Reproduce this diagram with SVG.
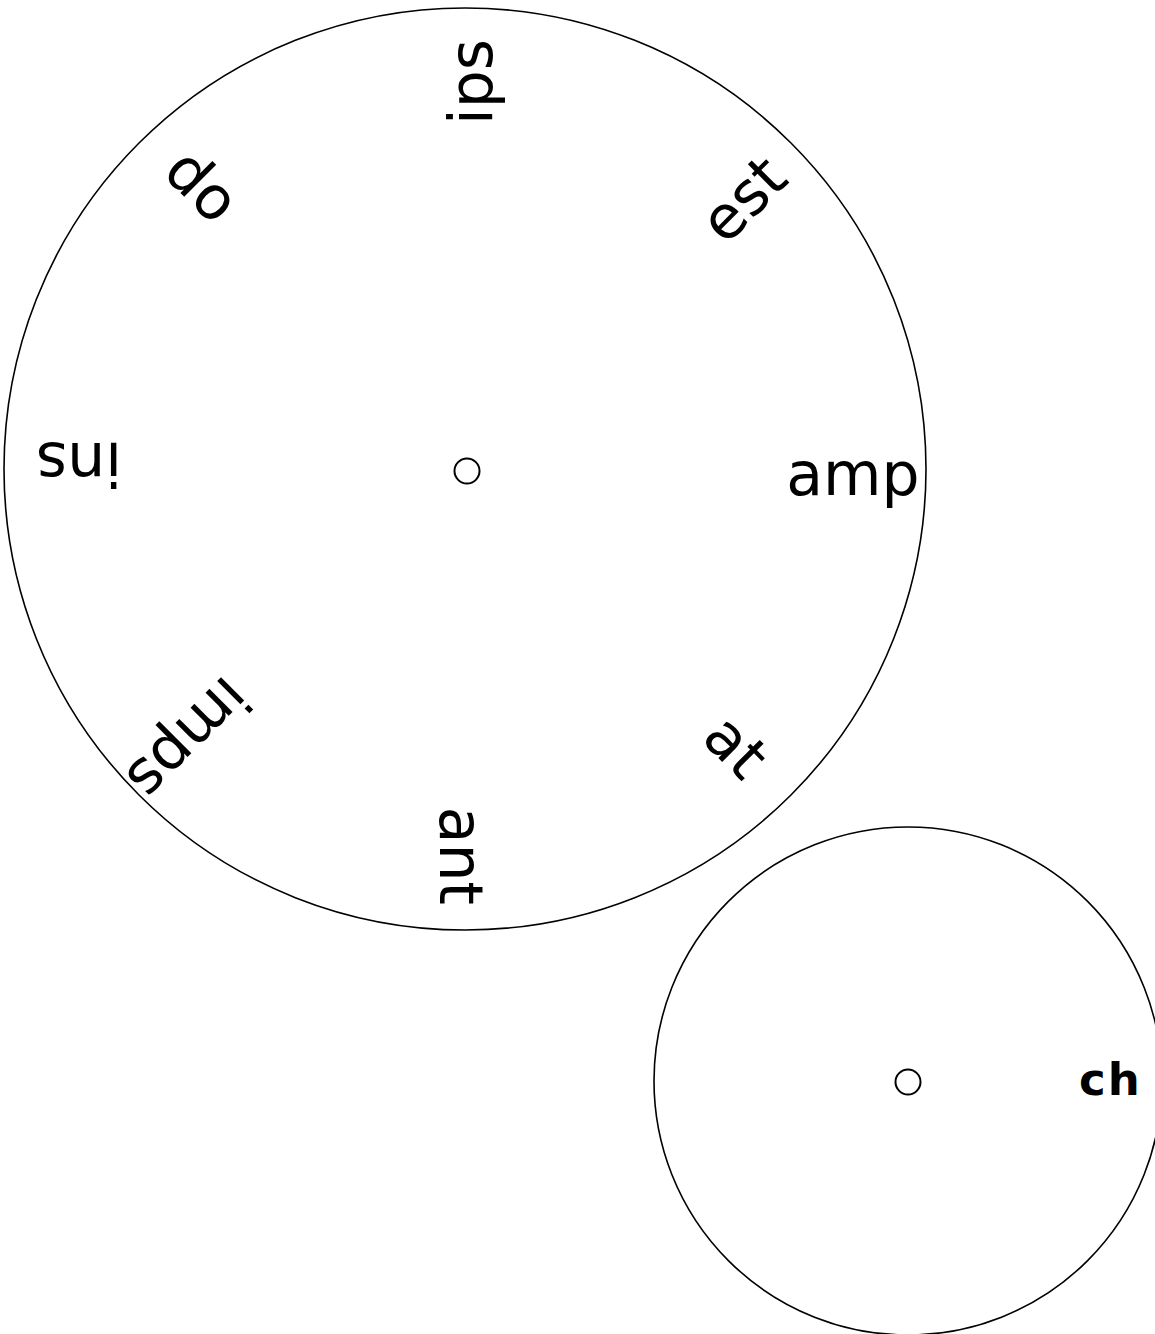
<svg xmlns="http://www.w3.org/2000/svg" width="1155" height="1334" viewBox="0 0 1155 1334">
<style>
.ring{fill:none;stroke:#000;stroke-width:1.6}
.hub{fill:none;stroke:#000;stroke-width:2}
.lbl{font-family:"DejaVu Sans","Liberation Sans",sans-serif;font-size:60px;fill:#000;text-anchor:middle}
.bold{font-family:"DejaVu Sans","Liberation Sans",sans-serif;font-size:45px;font-weight:bold;fill:#000;letter-spacing:2px}
</style>
<rect width="1155" height="1334" fill="#fff"/>
<g id="wheel-main">
<circle class="ring" cx="465" cy="469" r="461"/>
<circle class="hub" cx="467" cy="471" r="12.5"/>
<text class="lbl" x="853" y="495" transform="rotate(0 466 469)">amp</text>
<text class="lbl" x="853" y="495" transform="rotate(45 466 469)">at</text>
<text class="lbl" x="853" y="495" transform="rotate(90 466 469)">ant</text>
<text class="lbl" x="853" y="495" transform="rotate(135 466 469)">imps</text>
<text class="lbl" x="853" y="495" transform="rotate(180 466 469)">ins</text>
<text class="lbl" x="853" y="495" transform="rotate(225 466 469)">op</text>
<text class="lbl" x="853" y="495" transform="rotate(270 466 469)">ips</text>
<text class="lbl" x="853" y="495" transform="rotate(315 466 469)">est</text>
</g>
<g id="wheel-small">
<circle class="ring" cx="908" cy="1081" r="254"/>
<circle class="hub" cx="908" cy="1082" r="12.5"/>
<text class="bold" x="1079" y="1095">ch</text>
</g>
<g id="connectors"></g>
</svg>
